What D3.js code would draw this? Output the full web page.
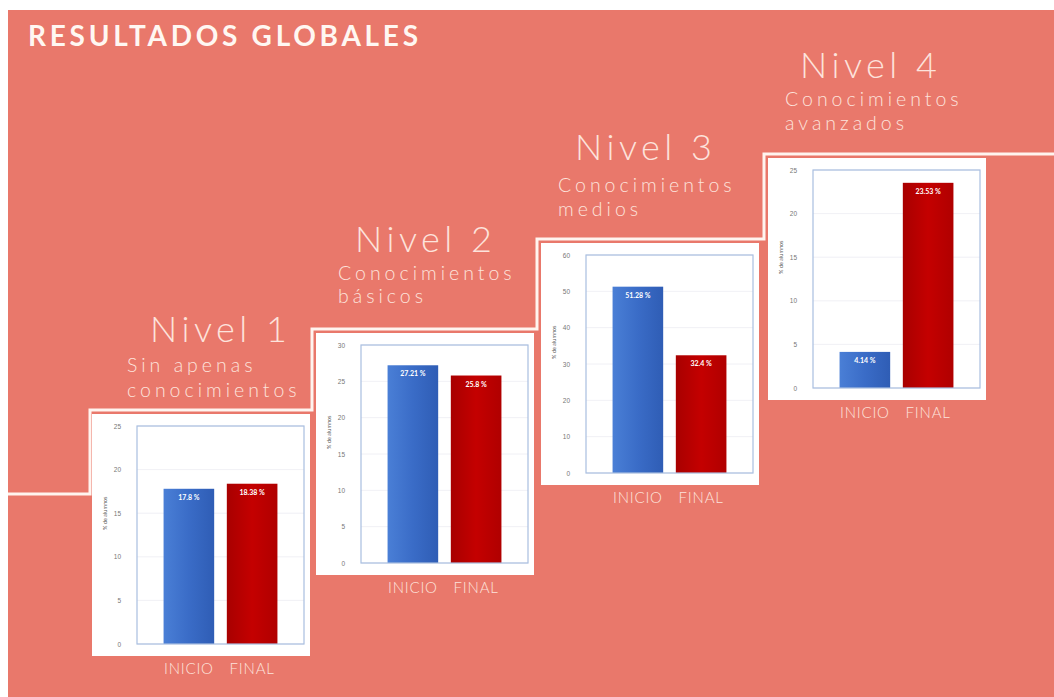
<!DOCTYPE html>
<html>
<head>
<meta charset="utf-8">
<script src="https://cdn.jsdelivr.net/npm/d3@7"></script>
<style>
  html, body { margin: 0; padding: 0; background: #fff; }
  svg { display: block; }
</style>
</head>
<body>
<div id="chart"></div>
<script>
// Data
const levels = ["Nivel 1", "Nivel 2", "Nivel 3", "Nivel 4"];
const subtitles = [
    ["Sin apenas", "conocimientos"],
    ["Conocimientos", "básicos"],
    ["Conocimientos", "medios"],
    ["Conocimientos", "avanzados"]
];
const phases = ["INICIO", "FINAL"];
const inicio = [17.8, 27.21, 51.28, 4.14];
const final = [18.38, 25.8, 32.4, 23.53];
const inicioLabels = ["17.8 %", "27.21 %", "51.28 %", "4.14 %"];
const finalLabels = ["18.38 %", "25.8 %", "32.4 %", "23.53 %"];
const yMax = [25, 30, 60, 25];
const yStep = [5, 5, 10, 5];

// Layout
const W = 1054, H = 697;
const cardW = 218, cardH = 242;
const cards = [
    { x: 92, y: 414, tx: 150, ty: 342, sx: 127, s1: 372, s2: 397 },
    { x: 316, y: 333, tx: 355, ty: 252, sx: 338, s1: 280, s2: 303 },
    { x: 541, y: 243, tx: 575, ty: 160, sx: 558, s1: 192, s2: 216 },
    { x: 768, y: 158, tx: 800, ty: 78, sx: 785, s1: 106, s2: 130 }
];
const plot = { left: 45, right: 6, top: 12, bottom: 12 };
const txtColor = "#fde3dc";

const svg = d3.select("#chart").append("svg")
    .attr("width", W)
    .attr("height", H)
    .style("font-family", "Lato, 'Open Sans', sans-serif");

const defs = svg.append("defs");
const blue = defs.append("linearGradient").attr("id", "gBlue");
blue.append("stop").attr("offset", "0%").attr("stop-color", "#4a7fd6");
blue.append("stop").attr("offset", "50%").attr("stop-color", "#3a6cc7");
blue.append("stop").attr("offset", "100%").attr("stop-color", "#2f5db5");
const red = defs.append("linearGradient").attr("id", "gRed");
red.append("stop").attr("offset", "0%").attr("stop-color", "#a80000");
red.append("stop").attr("offset", "50%").attr("stop-color", "#c40000");
red.append("stop").attr("offset", "100%").attr("stop-color", "#b00000");

// background
svg.append("rect")
    .attr("x", 8).attr("y", 10)
    .attr("width", W - 8).attr("height", H - 10)
    .attr("fill", "#e9786b");

// title
svg.append("text")
    .attr("x", 28).attr("y", 46)
    .attr("fill", "#fff7f2")
    .attr("font-size", 28)
    .attr("font-weight", 700)
    .attr("textLength", 390)
    .attr("lengthAdjust", "spacing")
    .text("RESULTADOS GLOBALES");

// staircase line
const stair = [[8, 494], [90, 494]];
cards.forEach((c, i) => {
    const next = cards[i + 1];
    const lineY = c.y - 4;
    stair.push([90 + (i === 0 ? 0 : stair[stair.length - 1][0] - 90), lineY]);
    stair.push([next ? next.x - 4 : W, lineY]);
});
svg.append("path")
    .attr("d", d3.line()(stair))
    .attr("fill", "none")
    .attr("stroke", "#fff4ef")
    .attr("stroke-width", 3);

cards.forEach((c, i) => {
    const g = svg.append("g").attr("transform", `translate(${c.x},${c.y})`);

    g.append("rect")
        .attr("width", cardW).attr("height", cardH)
        .attr("fill", "#fff");

    const pw = cardW - plot.left - plot.right;
    const ph = cardH - plot.top - plot.bottom;
    const pg = g.append("g").attr("transform", `translate(${plot.left},${plot.top})`);

    const x = d3.scaleBand().domain(phases).range([0, pw]).paddingInner(0.2).paddingOuter(0.42);
    const y = d3.scaleLinear().domain([0, yMax[i]]).range([ph, 0]);
    const ticks = d3.range(0, yMax[i] + 0.001, yStep[i]);

    // grid
    pg.append("g").selectAll("line")
        .data(ticks)
        .join("line")
        .attr("x1", 0).attr("x2", pw)
        .attr("y1", d => y(d)).attr("y2", d => y(d))
        .attr("stroke", "#ececf2")
        .attr("stroke-width", 0.8);

    // axis labels
    const axis = pg.append("g")
        .call(d3.axisLeft(y).tickValues(ticks).tickSize(0).tickPadding(16));
    axis.select(".domain").remove();
    axis.selectAll("text")
        .attr("fill", "#777")
        .attr("font-size", 6.5);

    g.append("text")
        .attr("transform", `translate(15,${plot.top + ph * 0.4}) rotate(-90)`)
        .attr("text-anchor", "middle")
        .attr("fill", "#555")
        .attr("font-size", 5.5)
        .text("% de alumnos");

    const vals = [inicio[i], final[i]];
    const labs = [inicioLabels[i], finalLabels[i]];

    pg.selectAll(".bar")
        .data(phases)
        .join("rect")
        .attr("class", "bar")
        .attr("x", d => x(d))
        .attr("width", x.bandwidth())
        .attr("y", (d, j) => y(vals[j]))
        .attr("height", (d, j) => ph - y(vals[j]))
        .attr("fill", (d, j) => j === 0 ? "url(#gBlue)" : "url(#gRed)");

    pg.selectAll(".val")
        .data(phases)
        .join("text")
        .attr("class", "val")
        .attr("x", d => x(d) + x.bandwidth() / 2)
        .attr("y", (d, j) => y(vals[j]) + 11)
        .attr("text-anchor", "middle")
        .attr("fill", "#fff")
        .attr("font-size", 7)
        .attr("font-weight", 700)
        .text((d, j) => labs[j]);

    // plot frame
    pg.append("rect")
        .attr("width", pw).attr("height", ph)
        .attr("fill", "none")
        .attr("stroke", "#a9bfe0")
        .attr("stroke-width", 1.2);

    // category labels below the card
    g.selectAll(".cat")
        .data(phases)
        .join("text")
        .attr("class", "cat")
        .attr("x", d => plot.left + x(d) + x.bandwidth() / 2)
        .attr("y", cardH + 18)
        .attr("text-anchor", "middle")
        .attr("fill", txtColor)
        .attr("font-size", 15)
        .attr("font-weight", 300)
        .attr("letter-spacing", 0.8)
        .text(d => d);

    // level titles
    svg.append("text")
        .attr("x", c.tx).attr("y", c.ty)
        .attr("fill", txtColor)
        .attr("font-size", 36)
        .attr("font-weight", 300)
        .attr("letter-spacing", 4.5)
        .text(levels[i]);

    subtitles[i].forEach((s, k) => {
        svg.append("text")
            .attr("x", c.sx).attr("y", k === 0 ? c.s1 : c.s2)
            .attr("fill", txtColor)
            .attr("font-size", 19.5)
            .attr("font-weight", 300)
            .attr("letter-spacing", 4)
            .text(s);
    });
});
</script>
</body>
</html>
